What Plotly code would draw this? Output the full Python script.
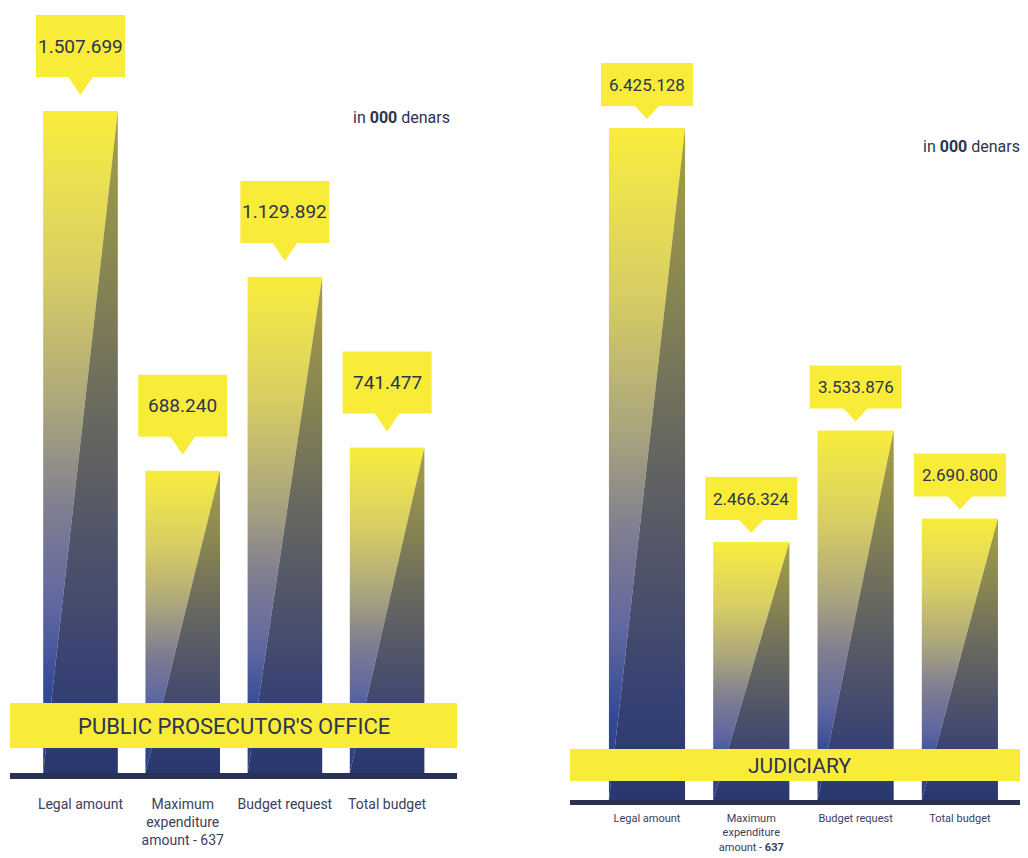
import plotly.graph_objects as go

# ---------------- data ----------------
categories_ppo = ["Legal amount", "Maximum<br>expenditure<br>amount - 637", "Budget request", "Total budget"]
categories_jud = ["Legal amount", "Maximum<br>expenditure<br>amount - <b>637</b>", "Budget request", "Total budget"]
ppo_values = [1507699, 688240, 1129892, 741477]
jud_values = [6425128, 2466324, 3533876, 2690800]
ppo_title = "PUBLIC PROSECUTOR'S OFFICE"
jud_title = "JUDICIARY"
unit_text = "in <b>000</b> denars"

# ---------------- style ----------------
OFF = 8                 # page body margin
W, H = 1028 - OFF, 858 - OFF
YELLOW = "#F9EC38"
NAVY = "#2B3152"
TEXT = "#2E3350"
LABEL = "#3B4060"
FONT = "Roboto, sans-serif"
BAR_W = 0.73

light_scale = [[0.0, "#283C82"], [0.12, "#304896"], [0.25, "#5F67A0"], [0.4, "#807E91"],
               [0.55, "#AAA57D"], [0.75, "#D7CD64"], [0.9, "#EBE150"], [1.0, "#F9EC3A"]]
dark_scale = [[0.0, "#28376E"], [0.15, "#374173"], [0.35, "#505469"], [0.55, "#69695F"],
              [0.75, "#878452"], [0.95, "#A09B48"], [1.0, "#A5A046"]]


def px_x(p):
    return (p - OFF) / W


def px_y(p):
    return 1 - (p - OFF) / H


fig = go.Figure()


def add_bars(values, xa, ya):
    for i, v in enumerate(values):
        l, r = i - BAR_W / 2, i + BAR_W / 2
        # lighter part: top-left, top-right, bottom-left
        fig.add_trace(go.Scatter(
            x=[l, l, r, l], y=[0, v, v, 0], mode="lines", line=dict(width=0),
            fill="toself", fillgradient=dict(type="vertical", colorscale=light_scale),
            xaxis=xa, yaxis=ya, hoverinfo="skip", showlegend=False))
        # darker part: top-right, bottom-right, bottom-left
        fig.add_trace(go.Scatter(
            x=[r, r, l, r], y=[v, 0, 0, v], mode="lines", line=dict(width=0),
            fill="toself", fillgradient=dict(type="vertical", colorscale=dark_scale),
            xaxis=xa, yaxis=ya, hoverinfo="skip", showlegend=False))


add_bars(ppo_values, "x", "y")
add_bars(jud_values, "x2", "y2")


def add_callouts(values, xref, yref, box_w, box_h, gap, tip, font_size):
    for i, v in enumerate(values):
        common = dict(xref=xref, yref=yref, xsizemode="pixel", ysizemode="pixel",
                      xanchor=i, yanchor=v, layer="above", line=dict(width=0), fillcolor=YELLOW)
        fig.add_shape(type="rect", x0=-box_w / 2, x1=box_w / 2, y0=gap, y1=gap + box_h, **common)
        fig.add_shape(type="path", path=f"M -13 {gap + 1} L 13 {gap + 1} L 0 {tip} Z", **common)
        fig.add_annotation(x=i, y=v, xref=xref, yref=yref, yshift=gap + box_h / 2,
                           text=f"{v:,}".replace(",", "."), showarrow=False,
                           font=dict(family=FONT, size=font_size, color=TEXT),
                           xanchor="center", yanchor="middle")


add_callouts(ppo_values, "x", "y", 89, 62, 34, 16, 19)
add_callouts(jud_values, "x2", "y2", 92, 43, 22, 9, 17)

# banners and baselines (paper coordinates)
fig.add_shape(type="rect", xref="paper", yref="paper", x0=px_x(10), x1=px_x(457),
              y0=px_y(748), y1=px_y(703), fillcolor=YELLOW, line=dict(width=0), layer="above")
fig.add_shape(type="rect", xref="paper", yref="paper", x0=px_x(10), x1=px_x(457),
              y0=px_y(779), y1=px_y(773), fillcolor=NAVY, line=dict(width=0), layer="above")
fig.add_shape(type="rect", xref="paper", yref="paper", x0=px_x(570), x1=px_x(1028),
              y0=px_y(781), y1=px_y(749), fillcolor=YELLOW, line=dict(width=0), layer="above")
fig.add_shape(type="rect", xref="paper", yref="paper", x0=px_x(570), x1=px_x(1028),
              y0=px_y(805), y1=px_y(800), fillcolor=NAVY, line=dict(width=0), layer="above")

fig.add_annotation(xref="paper", yref="paper", x=px_x(233.5), y=px_y(726), text=ppo_title,
                   showarrow=False, font=dict(family=FONT, size=22, color=TEXT),
                   xanchor="center", yanchor="middle")
fig.add_annotation(xref="paper", yref="paper", x=px_x(799), y=px_y(766), text=jud_title,
                   showarrow=False, font=dict(family=FONT, size=21, color=TEXT),
                   xanchor="center", yanchor="middle")

fig.add_annotation(xref="paper", yref="paper", x=px_x(452), y=px_y(118), text=unit_text,
                   showarrow=False, font=dict(family=FONT, size=16, color=TEXT),
                   xanchor="right", yanchor="middle")
fig.add_annotation(xref="paper", yref="paper", x=px_x(1022), y=px_y(146), text=unit_text,
                   showarrow=False, font=dict(family=FONT, size=16, color=TEXT),
                   xanchor="right", yanchor="middle")

axis_common = dict(showgrid=False, zeroline=False, showline=False, ticks="", fixedrange=True,
                   automargin=False)
fig.update_layout(
    template="none",
    width=W, height=H, margin=dict(l=0, r=0, t=0, b=0, pad=0),
    paper_bgcolor="white", plot_bgcolor="rgba(0,0,0,0)", showlegend=False,
    xaxis=dict(domain=[px_x(10), px_x(457)], range=[-0.69, 3.684], tickvals=[0, 1, 2, 3],
               ticktext=categories_ppo, tickfont=dict(family=FONT, size=14, color=LABEL),
               tickangle=0, ticklabelstandoff=21, anchor="y", **axis_common),
    yaxis=dict(domain=[px_y(773), 1], range=[0, (773 - OFF) / 662 * ppo_values[0]],
               showticklabels=False, anchor="x", **axis_common),
    xaxis2=dict(domain=[px_x(570), 1], range=[-0.738, 3.653], tickvals=[0, 1, 2, 3],
                ticktext=categories_jud, tickfont=dict(family=FONT, size=11, color=LABEL),
                tickangle=0, ticklabelstandoff=10, anchor="y2", **axis_common),
    yaxis2=dict(domain=[px_y(800), 1], range=[0, (800 - OFF) / 672 * jud_values[0]],
                showticklabels=False, anchor="x2", **axis_common),
)

fig.write_html("out.html")
